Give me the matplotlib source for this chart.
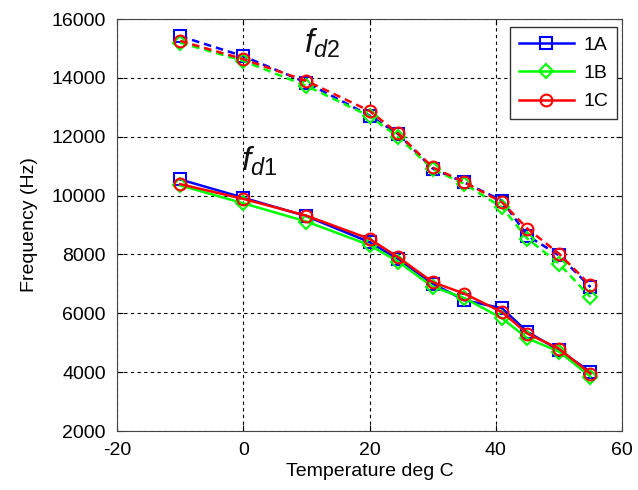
import matplotlib.pyplot as plt

plt.rcParams['font.family'] = ['Liberation Sans', 'DejaVu Sans']
plt.rcParams['mathtext.fontset'] = 'custom'
plt.rcParams['mathtext.it'] = 'Liberation Sans:italic'
plt.rcParams['mathtext.rm'] = 'Liberation Sans'
plt.rcParams['axes.unicode_minus'] = False

# Temperature points (deg C)
temps = [-10, 0, 10, 20, 24.5, 30, 35, 41, 45, 50, 55]

# f_d1 (solid lines)
fd1_1A = [10550, 9930, 9300, 8420, 7850, 7010, 6450, 6170, 5370, 4750, 4010]
fd1_1B = [10350, 9740, 9120, 8320, 7760, 6900, 6520, 5830, 5150, 4700, 3850]
fd1_1C = [10390, 9890, 9320, 8530, 7910, 7060, 6670, 6040, 5310, 4800, 3950]

# f_d2 (dashed lines)
fd2_1A = [15420, 14740, 13840, 12720, 12100, 10920, 10450, 9830, 8640, 7970, 6890]
fd2_1B = [15200, 14580, 13730, 12700, 12000, 10900, 10400, 9600, 8540, 7690, 6550]
fd2_1C = [15260, 14640, 13900, 12880, 12120, 10960, 10460, 9770, 8880, 8030, 6950]

series = ['1A', '1B', '1C']
colors = ['#0000ff', '#00ff00', '#ff0000']
markers = ['s', 'D', 'o']
fd1 = [fd1_1A, fd1_1B, fd1_1C]
fd2 = [fd2_1A, fd2_1B, fd2_1C]

fig = plt.figure(figsize=(6.38, 4.90), dpi=100)
ax = fig.add_axes([0.1834, 0.1204, 0.7916, 0.8406])

for name, c, m, y1, y2 in zip(series, colors, markers, fd1, fd2):
    ms = 7 if m == 'D' else 8.5
    ax.plot(temps, y2, linestyle=(0, (3, 2)), color=c, lw=1.8, marker=m,
            markersize=ms, markerfacecolor='none', markeredgecolor=c, markeredgewidth=1.5)
    ax.plot(temps, y1, linestyle='-', color=c, lw=1.8, marker=m,
            markersize=ms, markerfacecolor='none', markeredgecolor=c, markeredgewidth=1.5,
            label=name)

ax.text(9.6, 14850, r'$\mathit{f_{d2}}$', fontsize=24, color='#111111')
ax.text(-0.3, 10850, r'$\mathit{f_{d1}}$', fontsize=24, color='#111111')

ax.set_xlim(-20, 60)
ax.set_ylim(2000, 16000)
ax.set_xticks(range(-20, 61, 20))
ax.set_yticks(range(2000, 16001, 2000))
ax.tick_params(direction='in', labelsize=14, top=True, right=True, length=4)
ax.tick_params(axis='y', pad=8)
ax.tick_params(axis='x', pad=8)
ax.grid(True, color='black', linestyle=(0, (3, 3)), linewidth=0.8)
for s in ax.spines.values():
    s.set_color('#444444')

ax.set_xlabel('Temperature deg C', fontsize=14, labelpad=3)
ax.set_ylabel('Frequency (Hz)', fontsize=14, labelpad=10)

leg = ax.legend(loc='upper right', bbox_to_anchor=(0.99, 0.98), fontsize=14,
                fancybox=False, framealpha=1, edgecolor='#333333',
                handlelength=2.8, labelspacing=0.55, borderaxespad=0.0,
                handletextpad=0.5, borderpad=0.45)
leg.get_frame().set_linewidth(1.0)

fig.savefig('out.png', dpi=100)
